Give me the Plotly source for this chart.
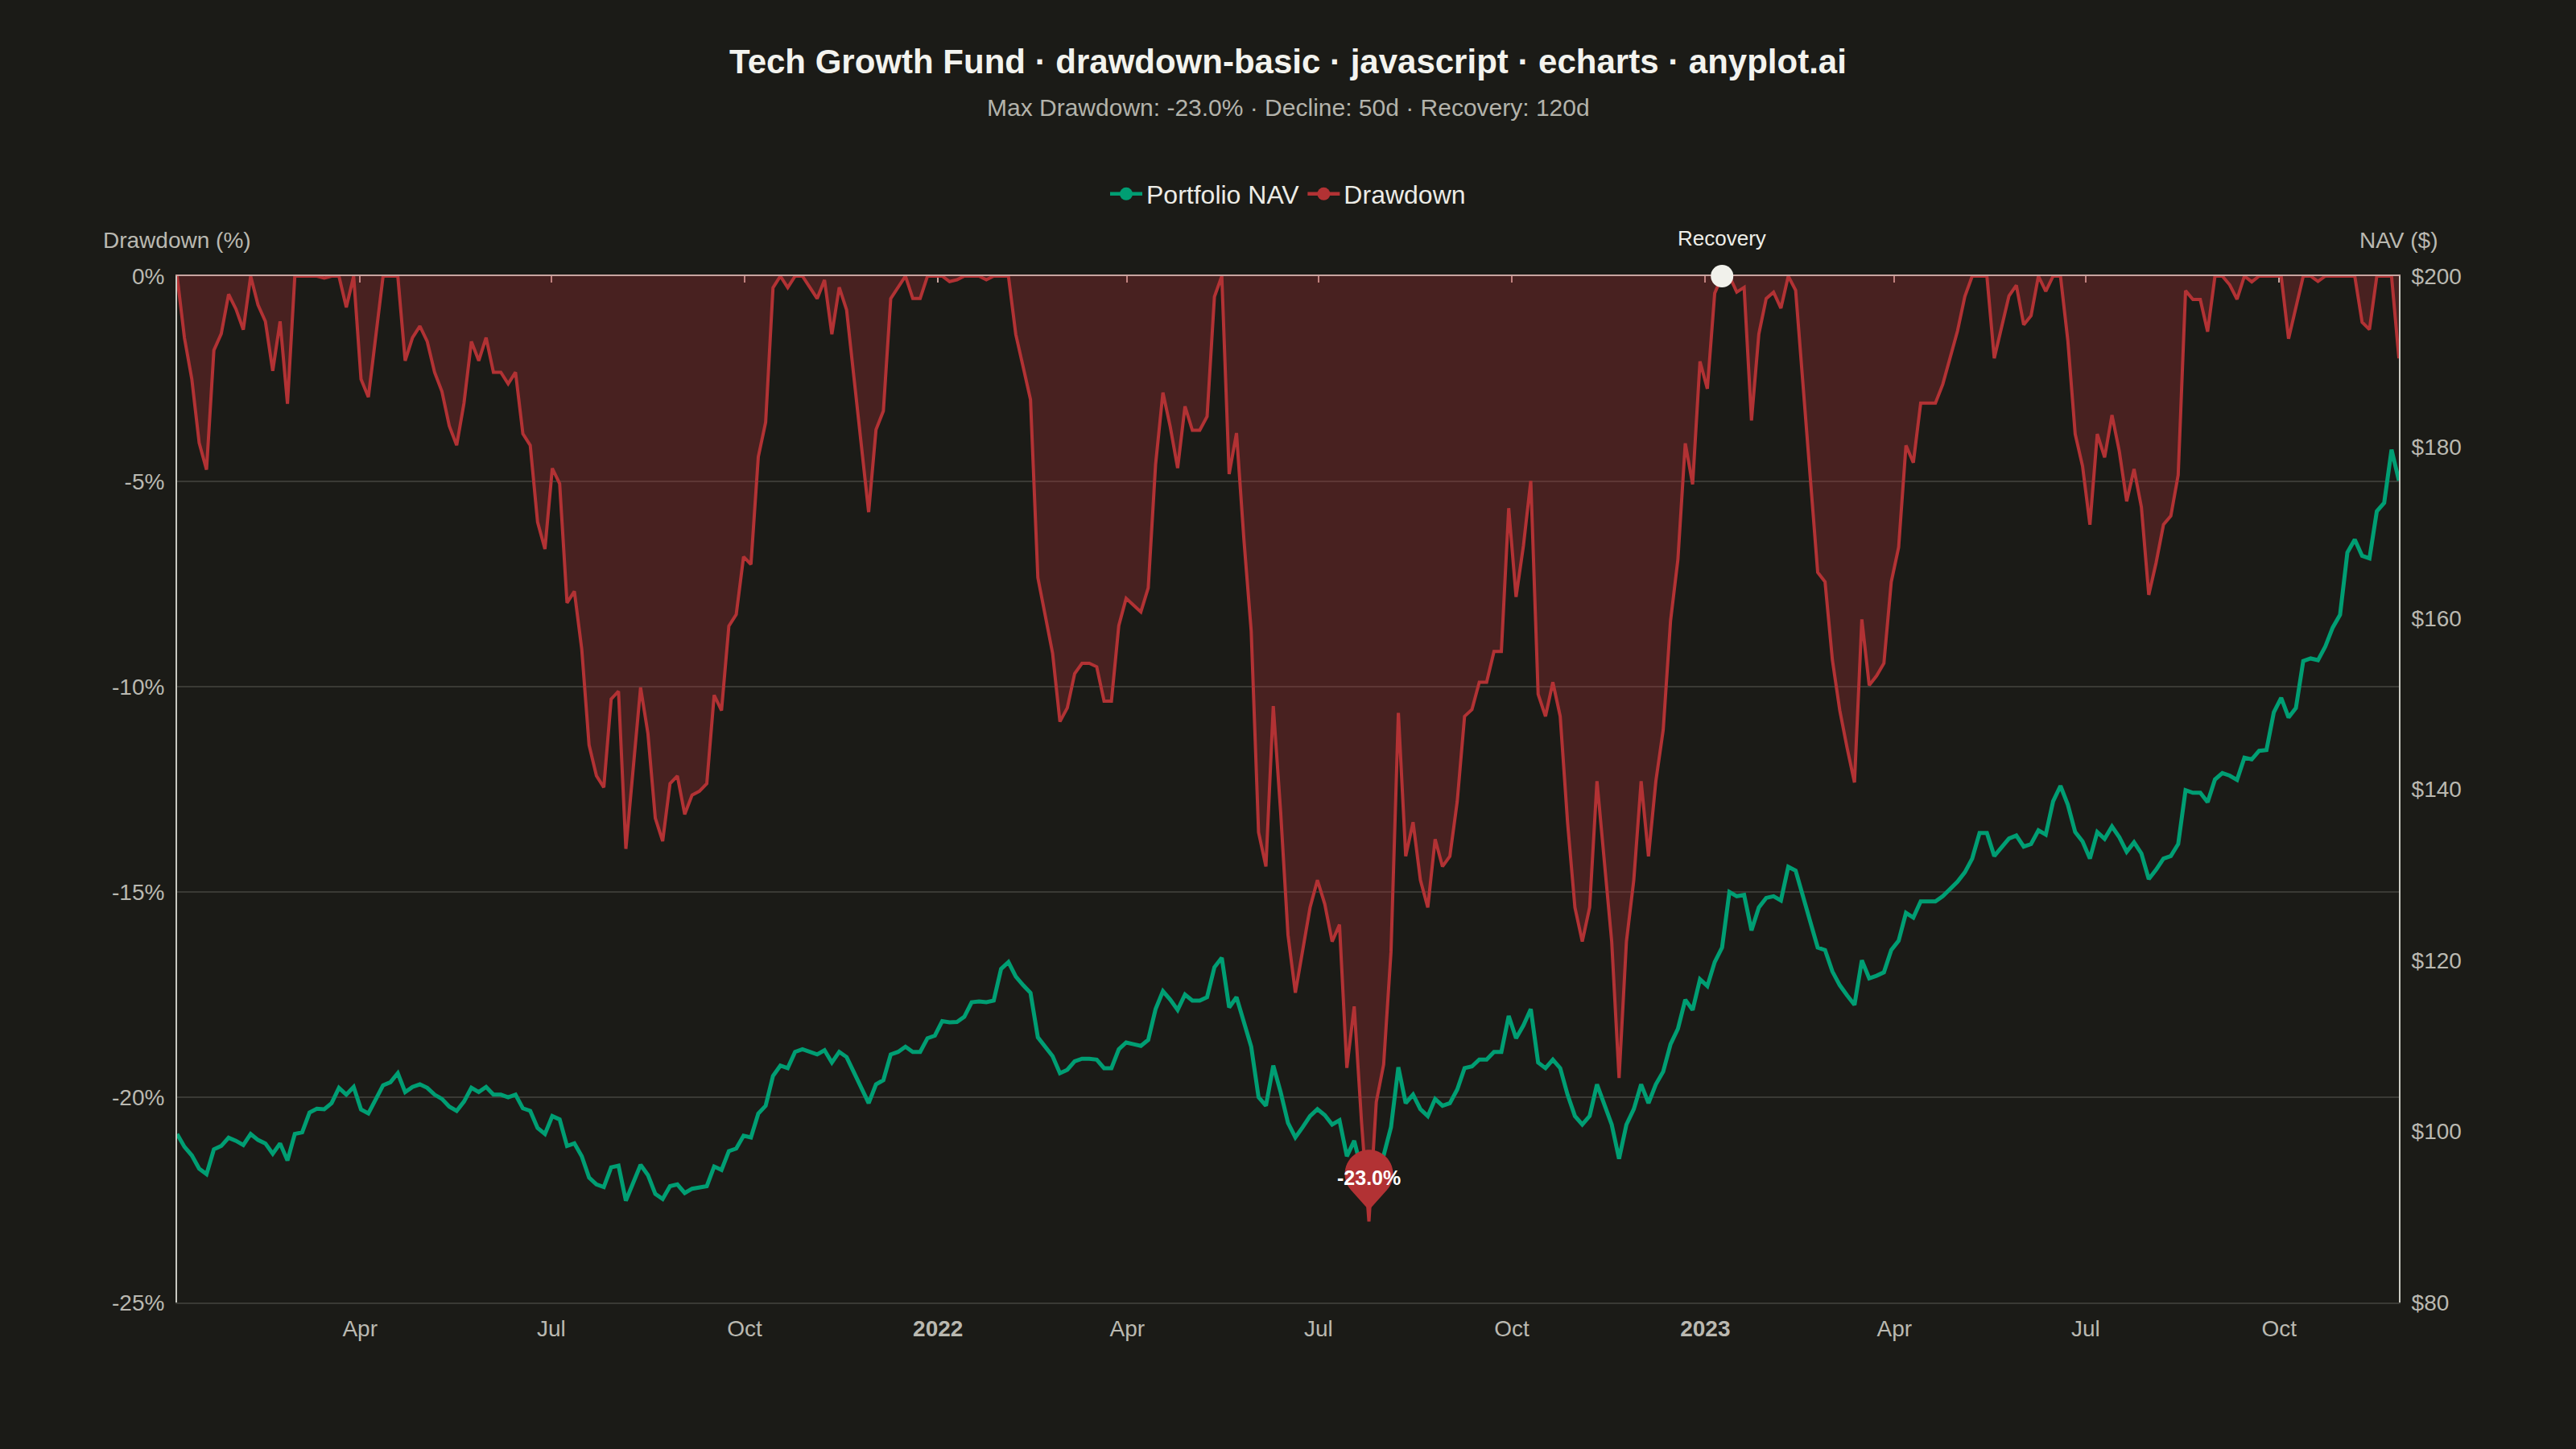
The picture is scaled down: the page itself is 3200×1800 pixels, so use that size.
import numpy as np
import pandas as pd
import plotly.graph_objects as go

# ---------------- data (half-week samples) ----------------
START_DATE = "2021-01-04"
SAMPLE_STEP_HOURS = 84  # 3.5 days

nav_values = [
    99.7, 98.2, 97.2, 95.65, 95.0, 97.9, 98.3, 99.26, 98.9, 98.4,
    99.7, 99.0, 98.6, 97.4, 98.6, 96.6, 99.7, 99.9, 102.2, 102.65,
    102.6, 103.3, 105.1, 104.3, 105.2, 102.56, 102.1, 103.7, 105.4, 105.75,
    106.8, 104.6, 105.2, 105.5, 105.1, 104.3, 103.8, 102.9, 102.4, 103.5,
    105.1, 104.6, 105.2, 104.3, 104.3, 104.0, 104.3, 102.7, 102.4, 100.4,
    99.7, 101.8, 101.4, 98.3, 98.6, 97.1, 94.6, 93.8, 93.5, 95.8,
    96.0, 91.9, 94.1, 96.1, 94.9, 92.7, 92.1, 93.6, 93.8, 92.8,
    93.3, 93.4, 93.6, 95.9, 95.5, 97.7, 98.0, 99.5, 99.3, 102.1,
    103.0, 106.5, 107.7, 107.4, 109.3, 109.6, 109.3, 109.0, 109.5, 108.05,
    109.3, 108.7, 106.9, 105.1, 103.3, 105.5, 106.0, 109.0, 109.3, 109.9,
    109.3, 109.3, 110.9, 111.2, 112.9, 112.75, 112.8, 113.4, 115.1, 115.2,
    115.1, 115.3, 119.0, 119.8, 118.1, 117.1, 116.2, 111.0, 109.9, 108.8,
    106.8, 107.2, 108.2, 108.5, 108.5, 108.4, 107.4, 107.4, 109.6, 110.4,
    110.2, 110.0, 110.7, 114.3, 116.4, 115.4, 114.2, 116.0, 115.3, 115.3,
    115.7, 119.2, 120.3, 114.5, 115.7, 112.6, 109.9, 104.0, 103.0, 107.7,
    104.6, 101.0, 99.3, 100.5, 101.8, 102.6, 101.9, 100.8, 101.3, 97.1,
    98.9, 95.5, 92.6, 96.1, 97.2, 100.5, 107.5, 103.3, 104.3, 102.6,
    101.8, 103.8, 103.0, 103.3, 104.9, 107.4, 107.6, 108.4, 108.4, 109.3,
    109.3, 113.5, 110.9, 112.4, 114.3, 108.05, 107.4, 108.4, 107.4, 104.3,
    101.8, 100.8, 101.8, 105.5, 103.2, 100.8, 96.8, 100.8, 102.6, 105.5,
    103.3, 105.5, 107.0, 110.2, 112.0, 115.4, 114.2, 117.8, 117.0, 119.8,
    121.5, 128.0, 127.5, 127.65, 123.5, 126.2, 127.3, 127.5, 127.0, 130.95,
    130.5, 127.65, 124.5, 121.5, 121.2, 118.7, 117.1, 115.9, 114.8, 120.0,
    117.9, 118.2, 118.6, 121.2, 122.3, 125.55, 125.0, 126.9, 126.9, 126.9,
    127.5, 128.4, 129.2, 130.3, 131.9, 134.9, 134.9, 132.2, 133.2, 134.25,
    134.6, 133.3, 133.6, 135.2, 134.7, 138.6, 140.4, 138.2, 135.0, 133.9,
    131.9, 135.0, 134.2, 135.65, 134.4, 132.7, 133.8, 132.5, 129.5, 130.6,
    131.9, 132.2, 133.6, 139.9, 139.6, 139.6, 138.5, 141.15, 141.9, 141.6,
    141.1, 143.7, 143.5, 144.5, 144.6, 149.0, 150.7, 148.4, 149.5, 155.0,
    155.3, 155.1, 156.7, 158.9, 160.4, 167.7, 169.2, 167.3, 167.0, 172.5,
    173.5, 179.7, 176.1,
]

tick_dates = ["2021-04-01", "2021-07-01", "2021-10-01", "2022-01-01",
              "2022-04-01", "2022-07-01", "2022-10-01", "2023-01-01",
              "2023-04-01", "2023-07-01", "2023-10-01"]
tick_text = ["Apr", "Jul", "Oct", "<b>2022</b>", "Apr", "Jul", "Oct",
             "<b>2023</b>", "Apr", "Jul", "Oct"]

dd_ticks = [0, -5, -10, -15, -20, -25]
dd_tick_text = ["0%", "-5%", "-10%", "-15%", "-20%", "-25%"]
nav_ticks = [80, 100, 120, 140, 160, 180, 200]
nav_tick_text = ["$80", "$100", "$120", "$140", "$160", "$180", "$200"]

TITLE = "Tech Growth Fund · drawdown-basic · javascript · echarts · anyplot.ai"
SUBTITLE = "Max Drawdown: -23.0% · Decline: 50d · Recovery: 120d"

# ---------------- derived series ----------------
dates = pd.date_range(START_DATE, periods=len(nav_values),
                      freq=pd.Timedelta(hours=SAMPLE_STEP_HOURS))
nav = np.array(nav_values, dtype=float)
running_peak = np.maximum.accumulate(nav)
drawdown = (nav / running_peak - 1.0) * 100.0

trough_idx = int(np.argmin(drawdown))
rec_idx = trough_idx + int(np.argmax(drawdown[trough_idx:] >= -1e-9))

# ---------------- style ----------------
BG = "#1b1b17"
GREEN = "#009E73"
RED = "#B23234"
FILL = "rgba(178,50,52,0.30)"
GRID = "#3a3a35"
AXIS = "#c9c9c1"
TOPLINE = "#c8a5a0"
TICKC = "#bab9b1"
FONT = "Liberation Sans, Arial, sans-serif"

fig = go.Figure()

fig.add_trace(go.Scatter(
    x=dates, y=drawdown, mode="lines", name="Drawdown",
    line=dict(color=RED, width=4), fill="tozeroy", fillcolor=FILL,
    yaxis="y", showlegend=False, legendgroup="dd", hoverinfo="skip"))

fig.add_trace(go.Scatter(
    x=dates, y=nav, mode="lines", name="Portfolio NAV",
    line=dict(color=GREEN, width=5), yaxis="y2",
    showlegend=False, legendgroup="nav", hoverinfo="skip"))

# legend entries (line + circle symbol)
fig.add_trace(go.Scatter(
    x=[None], y=[None], mode="lines+markers", name="Portfolio NAV",
    line=dict(color=GREEN, width=4.5), marker=dict(color=GREEN, size=21),
    legendgroup="nav"))
fig.add_trace(go.Scatter(
    x=[None], y=[None], mode="lines+markers", name="Drawdown",
    line=dict(color=RED, width=4.5), marker=dict(color=RED, size=21),
    legendgroup="dd"))

# recovery marker on the top-axis overlay (not clipped)
fig.add_trace(go.Scatter(
    x=[dates[rec_idx]], y=[0], xaxis="x2", yaxis="y", mode="markers",
    marker=dict(color="#f1f1eb", size=28, line=dict(width=0)),
    cliponaxis=False, showlegend=False, hoverinfo="skip"))

# ---------------- pin for max drawdown ----------------
cy, r, tip = 59.0, 30.0, 14.0
theta = np.arccos(r / (cy - tip))
phis = np.linspace(-np.pi / 2 + theta, 3 * np.pi / 2 - theta, 40)
pts = [(r * np.cos(p), cy + r * np.sin(p)) for p in phis]
path = f"M 0,{tip} " + " ".join(f"L {x:.2f},{y:.2f}" for x, y in pts) + " Z"

shapes = [
    dict(type="path", xref="x", yref="y", xsizemode="pixel", ysizemode="pixel",
         xanchor=dates[trough_idx], yanchor=float(drawdown[trough_idx]),
         path=path, fillcolor=RED, line=dict(width=0), layer="above"),
]

annotations = [
    dict(text=SUBTITLE, xref="paper", yref="paper", x=0.5, y=1.1645,
         xanchor="center", yanchor="middle", showarrow=False,
         font=dict(family=FONT, size=30, color="#b3b3ab")),
    dict(text="Drawdown (%)", xref="paper", yref="paper", x=0, y=1.0352,
         xanchor="center", yanchor="middle", showarrow=False,
         font=dict(family=FONT, size=28, color=TICKC)),
    dict(text="NAV ($)", xref="paper", yref="paper", x=1, y=1.0352,
         xanchor="center", yanchor="middle", showarrow=False,
         font=dict(family=FONT, size=28, color=TICKC)),
    dict(text=f"<b>{drawdown[trough_idx]:.1f}%</b>", xref="x", yref="y",
         x=dates[trough_idx], y=float(drawdown[trough_idx]), yshift=54,
         showarrow=False, font=dict(family=FONT, size=25, color="#ffffff")),
    dict(text="Recovery", xref="x", yref="y", x=dates[rec_idx], y=0,
         yshift=47, showarrow=False,
         font=dict(family=FONT, size=26, color="#efefe9")),
]

fig.update_layout(
    width=3200, height=1800,
    paper_bgcolor=BG, plot_bgcolor=BG,
    margin=dict(l=220, r=220, t=343, b=182),
    font=dict(family=FONT, color=TICKC),
    title=dict(text=f"<b>{TITLE}</b>", x=0.5, xanchor="center",
               y=1 - 76 / 1800, yanchor="middle", yref="container",
               font=dict(family=FONT, size=42, color="#f3f3ee")),
    legend=dict(orientation="h", x=0.5, xanchor="center", y=1.08,
                yanchor="middle", font=dict(family=FONT, size=32, color="#ecece6"),
                bgcolor="rgba(0,0,0,0)", itemwidth=40),
    xaxis=dict(type="date", range=[dates[0], dates[-1]],
               tickmode="array", tickvals=tick_dates, ticktext=tick_text,
               tickfont=dict(family=FONT, size=28, color=TICKC),
               showgrid=False, zeroline=False, showline=True,
               linecolor=GRID, linewidth=2, ticks="", ticklabelstandoff=6),
    xaxis2=dict(type="date", range=[dates[0], dates[-1]], overlaying="x",
                side="top", tickmode="array", tickvals=tick_dates,
                showticklabels=False, showgrid=False, zeroline=False,
                showline=True, linecolor=TOPLINE, linewidth=2,
                ticks="inside", ticklen=8, tickwidth=2, tickcolor=TOPLINE,
                layer="below traces"),
    yaxis=dict(range=[-25, 0], tickmode="array", tickvals=dd_ticks,
               ticktext=dd_tick_text,
               tickfont=dict(family=FONT, size=28, color=TICKC),
               showgrid=True, gridcolor=GRID, gridwidth=2, zeroline=False,
               showline=True, linecolor=AXIS, linewidth=2, ticks="",
               ticklabelstandoff=8),
    yaxis2=dict(range=[80, 200], overlaying="y", side="right",
                tickmode="array", tickvals=nav_ticks, ticktext=nav_tick_text,
                tickfont=dict(family=FONT, size=28, color=TICKC),
                showgrid=False, zeroline=False, showline=True,
                linecolor=AXIS, linewidth=2, ticks="", ticklabelstandoff=8),
    shapes=shapes,
    annotations=annotations,
)

fig.write_html(
    "out.html",
    config={"displayModeBar": False},
    post_script="document.body.style.margin='0';"
                "document.body.style.background='#1b1b17';",
)
